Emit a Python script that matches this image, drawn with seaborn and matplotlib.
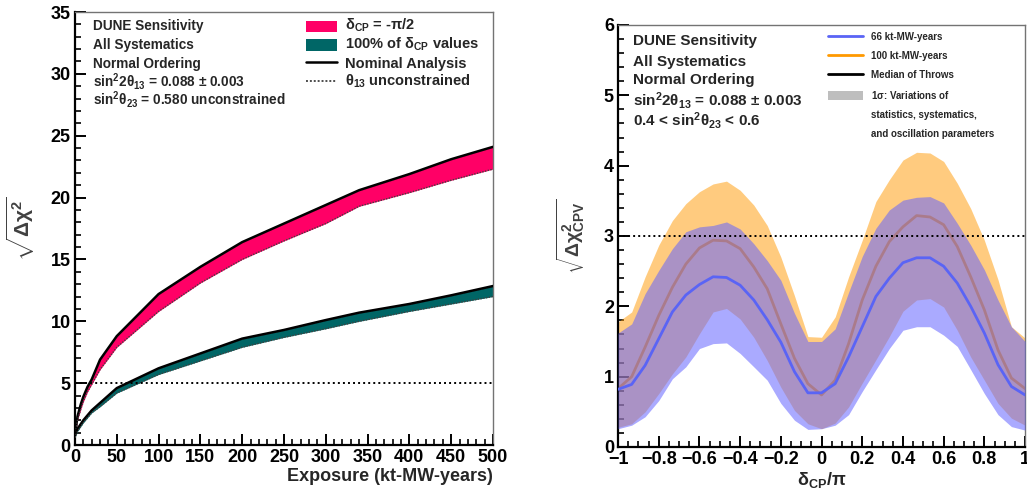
import numpy as np
import matplotlib
matplotlib.use("Agg")
import matplotlib.pyplot as plt
import seaborn as sns
from matplotlib.lines import Line2D
from matplotlib.patches import Patch, Rectangle

# ---------------- data: left panel ----------------
exposure = [0, 3, 7, 10, 15, 20, 30, 50, 100, 150, 200, 250, 300, 340, 400, 450, 500]
pink_nominal = [0.8, 2.3, 3.3, 3.9, 4.7, 5.3, 6.9, 8.8, 12.2, 14.4, 16.4, 17.9, 19.4, 20.6, 21.9, 23.1, 24.1]
pink_th13free = [0.6, 2.0, 2.9, 3.5, 4.3, 4.9, 6.1, 7.9, 10.8, 13.1, 15.0, 16.5, 17.9, 19.3, 20.4, 21.4, 22.3]
teal_nominal = [0.8, 1.3, 1.7, 2.0, 2.4, 2.8, 3.4, 4.6, 6.2, 7.4, 8.6, 9.3, 10.1, 10.7, 11.4, 12.1, 12.85]
teal_th13free = [0.6, 1.1, 1.5, 1.8, 2.2, 2.6, 3.1, 4.2, 5.7, 6.8, 7.9, 8.7, 9.4, 10.0, 10.8, 11.4, 12.0]
left_xticks = [0, 50, 100, 150, 200, 250, 300, 350, 400, 450, 500]
left_yticks = [0, 5, 10, 15, 20, 25, 30, 35]
five_sigma = 5

# ---------------- data: right panel ----------------
dcp = [-1.0, -0.933, -0.867, -0.8, -0.733, -0.667, -0.6, -0.533, -0.467, -0.4,
       -0.333, -0.267, -0.2, -0.133, -0.067, 0.0, 0.067, 0.133, 0.2, 0.267,
       0.333, 0.4, 0.467, 0.533, 0.6, 0.667, 0.733, 0.8, 0.867, 0.933, 1.0]
med66 = [0.82, 0.89, 1.16, 1.54, 1.92, 2.16, 2.31, 2.42, 2.41, 2.30, 2.09, 1.81, 1.49, 1.07, 0.77,
         0.77, 0.90, 1.28, 1.71, 2.14, 2.40, 2.62, 2.69, 2.69, 2.57, 2.33, 2.00, 1.62, 1.17, 0.86, 0.74]
lo66 = [0.26, 0.31, 0.43, 0.66, 0.97, 1.14, 1.40, 1.47, 1.48, 1.33, 1.14, 0.95, 0.62, 0.38, 0.25,
        0.26, 0.31, 0.46, 0.79, 1.10, 1.40, 1.66, 1.71, 1.71, 1.59, 1.43, 1.10, 0.76, 0.46, 0.29, 0.24]
hi66 = [1.62, 1.75, 2.18, 2.51, 2.82, 3.06, 3.13, 3.15, 3.20, 3.10, 2.89, 2.65, 2.37, 1.90, 1.50,
        1.50, 1.68, 2.20, 2.71, 3.11, 3.37, 3.51, 3.55, 3.56, 3.47, 3.18, 2.87, 2.52, 2.09, 1.71, 1.50]
med100 = [0.83, 1.00, 1.42, 1.87, 2.27, 2.60, 2.83, 2.94, 2.93, 2.82, 2.56, 2.25, 1.75, 1.26, 0.90,
          0.74, 0.95, 1.47, 2.09, 2.57, 2.92, 3.13, 3.29, 3.27, 3.16, 2.85, 2.42, 1.95, 1.38, 0.98, 0.83]
lo100 = [0.28, 0.33, 0.50, 0.76, 1.04, 1.28, 1.61, 1.92, 1.97, 1.82, 1.56, 1.23, 0.85, 0.52, 0.33,
         0.26, 0.34, 0.57, 0.91, 1.24, 1.57, 1.93, 2.09, 2.11, 1.99, 1.66, 1.28, 0.95, 0.62, 0.41, 0.31]
hi100 = [1.78, 1.92, 2.42, 2.87, 3.22, 3.46, 3.63, 3.74, 3.78, 3.65, 3.44, 3.15, 2.70, 2.15, 1.57,
         1.56, 1.85, 2.42, 2.94, 3.49, 3.80, 4.08, 4.19, 4.18, 4.06, 3.75, 3.39, 2.94, 2.38, 1.71, 1.55]
right_xticks = [-1, -0.8, -0.6, -0.4, -0.2, 0, 0.2, 0.4, 0.6, 0.8, 1]
right_xticklabels = ["\u22121", "\u22120.8", "\u22120.6", "\u22120.4", "\u22120.2", "0", "0.2", "0.4", "0.6", "0.8", "1"]
right_yticks = [0, 1, 2, 3, 4, 5, 6]
three_sigma = 3

# ---------------- style ----------------
sns.set_theme(style="ticks")
plt.rcParams["font.family"] = ["Liberation Sans", "DejaVu Sans"]
plt.rcParams["font.weight"] = "bold"
plt.rcParams["mathtext.fontset"] = "custom"
plt.rcParams["mathtext.rm"] = "Liberation Sans:bold"
plt.rcParams["mathtext.it"] = "Liberation Sans:bold"
plt.rcParams["mathtext.bf"] = "Liberation Sans:bold"
plt.rcParams["mathtext.default"] = "rm"

PINK = "#FF0066"
TEAL = "#006666"
ORANGE = "#FF9900"
BLUE = "#6464FF"
BLUE_LINE = "#5A64F5"

fig = plt.figure(figsize=(10.27, 4.96), dpi=100)
ax1 = fig.add_axes([0.0730, 0.1028, 0.4070, 0.8730])
ax2 = fig.add_axes([0.6018, 0.0988, 0.3963, 0.8508])


def style_axes(ax):
    for s in ("left", "bottom"):
        ax.spines[s].set_color("black")
        ax.spines[s].set_linewidth(1.6)
    for s in ("top", "right"):
        ax.spines[s].set_color("0.45")
        ax.spines[s].set_linewidth(1.0)
    ax.tick_params(which="both", direction="in", top=False, right=False, colors="black",
                   labelsize=13, pad=3)
    ax.tick_params(which="major", length=8, width=1.4)
    ax.tick_params(which="minor", length=4.3, width=1.2)
    for lab in ax.get_xticklabels() + ax.get_yticklabels():
        lab.set_fontweight("bold")


# ---------------- left panel ----------------
ax1.fill_between(exposure, pink_th13free, pink_nominal, color=PINK, lw=0, zorder=1)
ax1.fill_between(exposure, teal_th13free, teal_nominal, color=TEAL, lw=0, zorder=1)
for nom, free in ((pink_nominal, pink_th13free), (teal_nominal, teal_th13free)):
    sns.lineplot(x=exposure, y=nom, ax=ax1, color="black", lw=1.8, estimator=None, sort=False, zorder=3)
    sns.lineplot(x=exposure, y=free, ax=ax1, color="0.25", lw=1.0, estimator=None, sort=False,
                 linestyle=(0, (1, 1)), zorder=3)
ax1.axhline(five_sigma, color="black", lw=1.4, linestyle=(0, (1, 1.6)), zorder=4)
ax1.set_xlim(0, 500)
ax1.set_ylim(0, 35)
ax1.set_xticks(left_xticks)
ax1.set_yticks(left_yticks)
ax1.set_xticks(np.arange(0, 501, 10), minor=True)
ax1.set_yticks(np.arange(0, 36, 1), minor=True)
style_axes(ax1)
ax1.set_xlabel("Exposure (kt-MW-years)", fontsize=13, fontweight="bold", loc="right", labelpad=1)
ax1.set_ylabel(r"$\sqrt{\Delta\chi^{2}}$", fontsize=15, color="0.25", labelpad=10)

left_info = ["DUNE Sensitivity", "All Systematics", "Normal Ordering",
             r"sin$^{2}$2$\theta_{13}$ = 0.088 $\pm$ 0.003",
             r"sin$^{2}\theta_{23}$ = 0.580 unconstrained"]
left_info_y = [0.968, 0.924, 0.881, 0.839, 0.797]
for t, yy in zip(left_info, left_info_y):
    ax1.text(0.043, yy, t, transform=ax1.transAxes, fontsize=9.8, fontweight="bold",
             va="center", ha="left")

# legend of the left panel (placed like the ROOT legend)
l1 = [r"$\delta_{CP}$ = -$\pi$/2", r"100% of $\delta_{CP}$ values", "Nominal Analysis",
      r"$\theta_{13}$ unconstrained"]
l1_base = [0.9596, 0.9157, 0.8718, 0.8303]
l1_mid = [0.9665, 0.9238, 0.8834, 0.8406]
hx0, hx1, tx = 0.5526, 0.6268, 0.646
ph = 0.0268
for col, ym in zip((PINK, TEAL), l1_mid[:2]):
    ax1.add_patch(Rectangle((hx0, ym - ph / 2), hx1 - hx0, ph, transform=ax1.transAxes,
                            facecolor=col, edgecolor="none", clip_on=False, zorder=6))
ax1.add_line(Line2D([hx0, hx1], [l1_mid[2]] * 2, transform=ax1.transAxes, color="black", lw=1.8))
ax1.add_line(Line2D([hx0, hx1], [l1_mid[3]] * 2, transform=ax1.transAxes, color="0.3", lw=1.4,
                    linestyle=(0, (1, 1))))
for t, yb in zip(l1, l1_base):
    ax1.text(tx, yb, t, transform=ax1.transAxes, fontsize=10.5, fontweight="bold",
             va="baseline", ha="left")

# ---------------- right panel ----------------
ax2.fill_between(dcp, lo100, hi100, color=ORANGE, alpha=0.5, lw=0, zorder=1)
sns.lineplot(x=dcp, y=med100, ax=ax2, color=ORANGE, lw=2.0, estimator=None, sort=False, zorder=2)
ax2.fill_between(dcp, lo66, hi66, color=BLUE, alpha=0.55, lw=0, zorder=3)
sns.lineplot(x=dcp, y=med66, ax=ax2, color=BLUE_LINE, lw=2.0, estimator=None, sort=False, zorder=4)
ax2.axhline(three_sigma, color="black", lw=1.4, linestyle=(0, (1, 1.6)), zorder=5)
ax2.set_xlim(-1, 1)
ax2.set_ylim(0, 6)
ax2.set_xticks(right_xticks)
ax2.set_xticklabels(right_xticklabels)
ax2.set_yticks(right_yticks)
ax2.set_xticks(np.arange(-1, 1.001, 0.05), minor=True)
ax2.set_yticks(np.arange(0, 6.001, 0.2), minor=True)
style_axes(ax2)
ax2.set_xlabel(r"$\delta_{CP}/\pi$", fontsize=13, labelpad=1)
ax2.set_ylabel(r"$\sqrt{\Delta\chi^{2}_{CPV}}$", fontsize=14, color="0.25", labelpad=12)

right_info = ["DUNE Sensitivity", "All Systematics", "Normal Ordering",
              r"sin$^{2}$2$\theta_{13}$ = 0.088 $\pm$ 0.003",
              r"0.4 < sin$^{2}\theta_{23}$ < 0.6"]
right_info_y = [0.962, 0.913, 0.869, 0.820, 0.774]
for t, yy in zip(right_info, right_info_y):
    ax2.text(0.037, yy, t, transform=ax2.transAxes, fontsize=11, fontweight="bold",
             va="center", ha="left")

h2 = [Line2D([], [], color=BLUE_LINE, lw=2),
      Line2D([], [], color=ORANGE, lw=2),
      Line2D([], [], color="black", lw=2),
      Patch(facecolor="#BEBEBE", edgecolor="none"),
      Line2D([], [], color="none"),
      Line2D([], [], color="none")]
l2 = ["66 kt-MW-years", "100 kt-MW-years", "Median of Throws", r"1$\sigma$: Variations of",
      "statistics, systematics,", "and oscillation parameters"]
leg2 = ax2.legend(h2, l2, loc="upper left", bbox_to_anchor=(0.5, 1.0), frameon=False,
                  prop={"size": 7, "weight": "bold"}, handlelength=3.6, handleheight=1.0,
                  handletextpad=0.75, labelspacing=0.92, borderaxespad=0.3)

fig.savefig("out.png", dpi=100)
